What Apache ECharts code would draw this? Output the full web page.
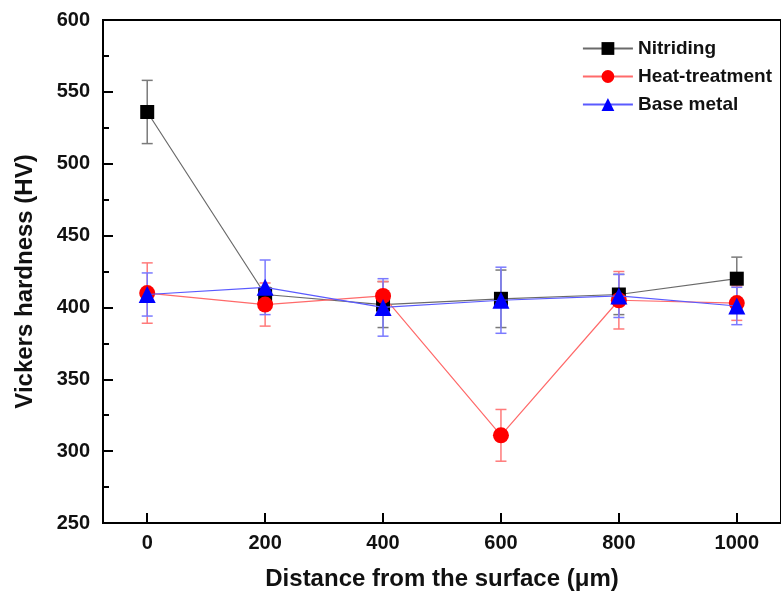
<!DOCTYPE html>
<html><head><meta charset="utf-8">
<script src="https://cdn.jsdelivr.net/npm/echarts@6/dist/echarts.min.js"></script>
<style>html,body{margin:0;padding:0;background:#fff;overflow:hidden}#c{width:781px;height:596px}</style>
</head><body><div id="c"></div>
<script>
const distances = [0, 200, 400, 600, 800, 1000];
const xTicks = [0, 200, 400, 600, 800, 1000];
const nitriding = [536, 409, 402, 406, 409, 420];
const nitridingErr = [22, 5, 16, 20, 14, 15];
const heat = [410, 402, 408, 311, 405, 403];
const heatErr = [21, 15, 10, 18, 20, 12];
const base = [409, 414, 400, 405, 408, 401];
const baseErr = [15, 19, 20, 23, 15, 13];

function pairs(vals){ return distances.map((d,i)=>[d, vals[i]]); }
function errData(vals, errs){ return distances.map((d,i)=>[d, vals[i]-errs[i], vals[i]+errs[i]]); }
function errSeries(vals, errs, color){
  return {
    type:'custom', silent:true, z:1,
    data: errData(vals, errs),
    renderItem: function(params, api){
      const lo = api.coord([api.value(0), api.value(1)]);
      const hi = api.coord([api.value(0), api.value(2)]);
      const w = 5.5;
      const st = {stroke: color, lineWidth: 1.5};
      return {type:'group', children:[
        {type:'line', shape:{x1:lo[0],y1:lo[1],x2:hi[0],y2:hi[1]}, style:st},
        {type:'line', shape:{x1:lo[0]-w,y1:lo[1],x2:lo[0]+w,y2:lo[1]}, style:st},
        {type:'line', shape:{x1:hi[0]-w,y1:hi[1],x2:hi[0]+w,y2:hi[1]}, style:st}
      ]};
    }
  };
}
const font = 'Liberation Sans, Arial, sans-serif';
const chart = echarts.init(document.getElementById('c'), null, {renderer:'canvas'});
chart.setOption({
  animation:false,
  backgroundColor:'#fff',
  grid:{left:103, top:20, bottom:70, right:-10, show:true, borderColor:'#000', borderWidth:2, backgroundColor:'transparent'},
  legend:{
    right:4, top:34, orient:'vertical', itemGap:9, itemWidth:50, itemHeight:16,
    textStyle:{fontFamily:font, fontWeight:'bold', fontSize:19, color:'#111'},
    data:['Nitriding','Heat-treatment','Base metal']
  },
  xAxis:{
    type:'value', min:-75, max:1075,
    name:'Distance from the surface (\u03bcm)', nameLocation:'middle', nameGap:44,
    nameTextStyle:{fontFamily:font, fontWeight:'bold', fontSize:24, color:'#111'},
    axisLine:{onZero:false, lineStyle:{color:'#000', width:2}},
    axisTick:{inside:true, length:10, lineStyle:{width:2, color:'#000'}, customValues:xTicks},
    axisLabel:{customValues:xTicks, formatter:function(v){return String(v);}, fontFamily:font, fontWeight:'bold', fontSize:20, color:'#111', margin:10},
    splitLine:{show:false}
  },
  yAxis:{
    type:'value', min:250, max:600, interval:50,
    name:'Vickers hardness (HV)', nameLocation:'middle', nameGap:66, nameRotate:90,
    nameTextStyle:{fontFamily:font, fontWeight:'bold', fontSize:24, color:'#111', padding:[0,20,0,0]},
    axisLine:{show:true, onZero:false, lineStyle:{color:'#000', width:2}},
    axisTick:{inside:true, length:10, lineStyle:{width:2, color:'#000'}},
    minorTick:{show:true, splitNumber:2, length:6, lineStyle:{width:2, color:'#000'}},
    axisLabel:{fontFamily:font, fontWeight:'bold', fontSize:20, color:'#111', margin:13},
    splitLine:{show:false}
  },
  series:[
    errSeries(nitriding, nitridingErr, '#7a7a7a'),
    errSeries(heat, heatErr, '#ff7a7a'),
    errSeries(base, baseErr, '#7a7aff'),
    {name:'Nitriding', type:'line', data:pairs(nitriding), symbol:'rect', symbolSize:14, z:3,
     itemStyle:{color:'#000'}, lineStyle:{color:'#6a6a6a', width:1.2}},
    {name:'Heat-treatment', type:'line', data:pairs(heat), symbol:'circle', symbolSize:16, z:3,
     itemStyle:{color:'#ff0000'}, lineStyle:{color:'#ff6a6a', width:1.2}},
    {name:'Base metal', type:'line', data:pairs(base), symbol:'triangle', symbolSize:17, z:4,
     itemStyle:{color:'#0000ff'}, lineStyle:{color:'#5a5aff', width:1.2}}
  ]
});
</script></body></html>
